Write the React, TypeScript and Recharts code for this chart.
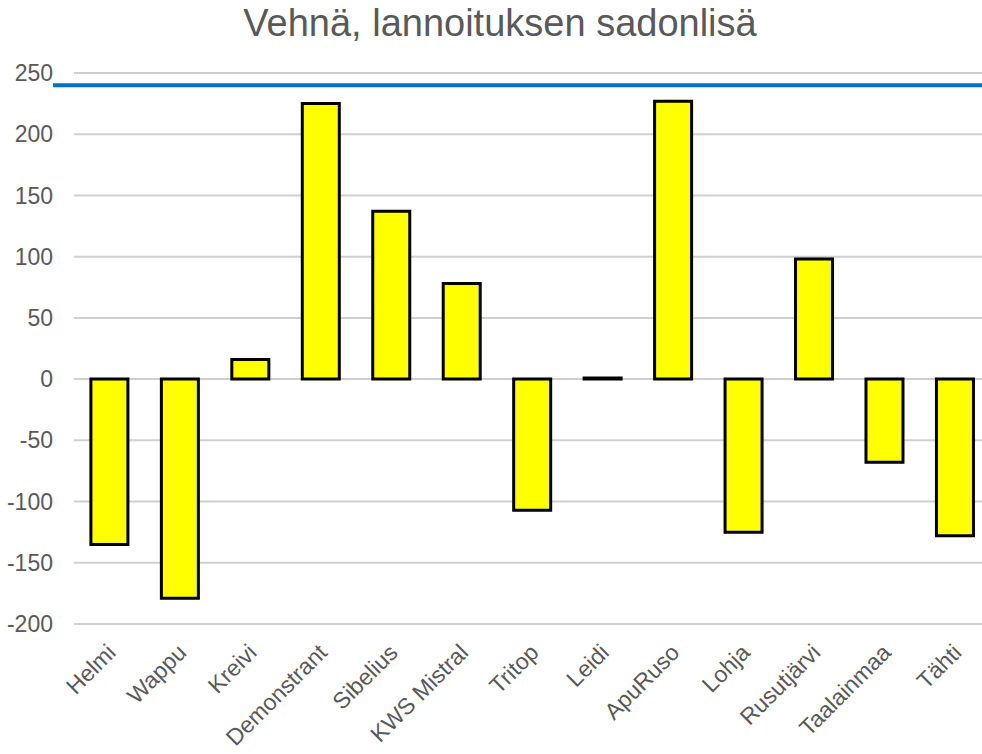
import React from 'react';
import { BarChart, Bar, XAxis, YAxis, CartesianGrid, ReferenceLine } from 'recharts';

const varieties = ['Helmi', 'Wappu', 'Kreivi', 'Demonstrant', 'Sibelius', 'KWS Mistral', 'Tritop', 'Leidi', 'ApuRuso', 'Lohja', 'Rusutjärvi', 'Taalainmaa', 'Tähti'];
const yieldGain = [-135, -179, 16, 225, 137, 78, -107, 1, 227, -125, 98, -68, -128];
const yTicks = [-200, -150, -100, -50, 0, 50, 100, 150, 200, 250];
const referenceLevel = 240;

const data = varieties.map((name, i) => ({ name, value: yieldGain[i] }));

const AngledTick = ({ x, y, payload }: any) => (
  <g transform={`translate(${x + 8},${y + 22})`}>
    <text
      textAnchor="end"
      transform="rotate(-45)"
      fontSize={23}
      fill="#595959"
      fontFamily="'Liberation Sans', Arial, sans-serif"
    >
      {payload.value}
    </text>
  </g>
);

const WideLine = (props: any) => (
  <line
    x1={props.x1 - 21}
    y1={props.y1}
    x2={props.x2}
    y2={props.y2}
    stroke="#0070C0"
    strokeWidth={4}
  />
);

const App: React.FC = () => {
  return (
    <div style={{ position: 'absolute', left: 0, top: 0, width: 982, height: 754, overflow: 'hidden', background: '#fff' }}>
      <div
        style={{
          position: 'absolute',
          top: 2,
          left: 9,
          width: 982,
          textAlign: 'center',
          fontSize: 38,
          color: '#595959',
          fontFamily: "'Liberation Sans', Arial, sans-serif",
        }}
      >
        Vehnä, lannoituksen sadonlisä
      </div>
      <BarChart
        width={990}
        height={754}
        data={data}
        margin={{ top: 73, right: 0, left: 0, bottom: 0 }}
        barCategoryGap="24%"
      >
        <CartesianGrid vertical={false} stroke="#CFCFCF" strokeWidth={2} />
        <XAxis
          dataKey="name"
          interval={0}
          axisLine={false}
          tickLine={false}
          height={130}
          tick={<AngledTick />}
        />
        <YAxis
          domain={[-200, 250]}
          ticks={yTicks}
          width={74}
          axisLine={false}
          tickLine={false}
          tickMargin={15}
          tick={{ fontSize: 23, fill: '#595959', fontFamily: "'Liberation Sans', Arial, sans-serif" }}
        />
        <Bar dataKey="value" fill="#FFFF00" stroke="#000000" strokeWidth={3} isAnimationActive={false} />
        <ReferenceLine y={referenceLevel} shape={<WideLine />} />
      </BarChart>
    </div>
  );
};

export default App;
